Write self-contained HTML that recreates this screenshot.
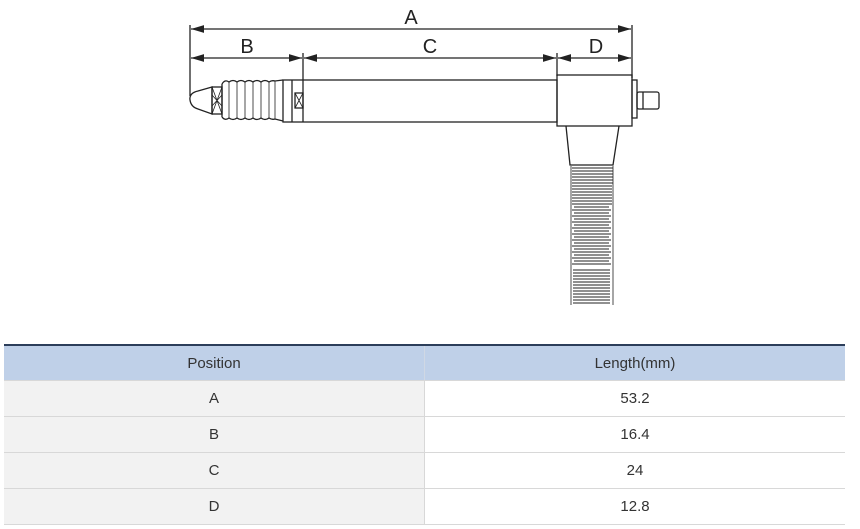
<!DOCTYPE html>
<html><head><meta charset="utf-8"><style>
body{margin:0;background:#fff;width:860px;height:529px;overflow:hidden;font-family:"Liberation Sans",sans-serif}
table{position:absolute;left:4px;top:344px;width:841px;border-collapse:collapse;border-top:2px solid #2c3e5a;font-size:15px;color:#333}
td{height:35px;text-align:center;border-bottom:1px solid #d8d8d8;padding:0}
tr.h td{background:#bfd0e8;height:34px}
td.l{background:#f2f2f2;width:420px;border-right:1px solid #d8d8d8}
tr.h td.l{background:#bfd0e8;border-right:1px solid #d0d8e4}
</style></head><body>
<svg width="860" height="340" style="position:absolute;left:0;top:0" fill="none" stroke="#222" stroke-width="1.3">
<defs><marker id="a" markerWidth="10" markerHeight="6" refX="10" refY="3" orient="auto-start-reverse"><path d="M0,0L10,3L0,6z" fill="#222" stroke="none"/></marker></defs>
<line x1="190" y1="25" x2="190" y2="96"/>
<line x1="632" y1="25" x2="632" y2="78"/>
<line x1="303" y1="53" x2="303" y2="122"/>
<line x1="557" y1="53" x2="557" y2="76"/>
<line x1="191" y1="29" x2="631" y2="29" marker-start="url(#a)" marker-end="url(#a)"/>
<line x1="191" y1="58" x2="302" y2="58" marker-start="url(#a)" marker-end="url(#a)"/>
<line x1="304" y1="58" x2="556" y2="58" marker-start="url(#a)" marker-end="url(#a)"/>
<line x1="558" y1="58" x2="631" y2="58" marker-start="url(#a)" marker-end="url(#a)"/>
<g fill="#222" stroke="none" font-size="20" font-family="Liberation Sans,sans-serif" text-anchor="middle">
<text x="411" y="24">A</text><text x="247" y="53">B</text><text x="430" y="53">C</text><text x="596" y="53">D</text></g>
<path d="M212,87 L198,91 Q189,93 190,100 Q191,107 198,109 L212,114 Z"/>
<rect x="212" y="87" width="10" height="27"/>
<path d="M212,87 L222,114 M222,87 L212,114 M212,95 L222,106 M222,95 L212,106" stroke-width="0.8"/>
<path d="M222,84 L222,117 M222,84 Q225,79 229,82 Q233,79 237,82 Q241,79 245,82 Q249,79 253,82 Q257,79 261,82 Q265,79 269,82 Q272,80 275,81 L283,80 M222,117 Q225,121 229,118 Q233,121 237,118 Q241,121 245,118 Q249,121 253,118 Q257,121 261,118 Q265,121 269,118 Q272,120 275,119 L283,121"/>
<path d="M229,82V118M237,82V118M245,82V118M253,82V118M261,82V118M269,82V118M275,81V119" stroke-width="0.8"/>
<rect x="283" y="80" width="274" height="42"/>
<line x1="292" y1="80" x2="292" y2="122"/>
<rect x="295" y="93" width="8" height="15"/><path d="M295,93L303,108M303,93L295,108" stroke-width="0.8"/>
<rect x="557" y="75" width="75" height="51"/>
<rect x="632" y="80" width="5" height="38"/>
<rect x="637" y="92" width="22" height="17" rx="2"/><line x1="643" y1="92" x2="643" y2="109"/>
<path d="M566,126 L570,165 L613,165 L619,126"/>
<g stroke-width="1">
<path d="M572,168H613M572,171H613M572,174H613M572,177H613M572,180H613M572,183H613M572,186H612M572,189H612M572,192H612M572,195H612M572,198H612M572,201H612M572,204H612"/>
<path d="M572,210H611M572,216H611M572,222H611M572,228H611M572,234H611M572,240H611M572,246H611M572,252H611M572,258H611M572,264H611"/>
<path d="M574,207H609M574,213H609M574,219H609M574,225H609M574,231H609M574,237H609M574,243H609M574,249H609M574,255H609M574,261H609"/>
<path d="M573,270H610M573,273H610M573,276H610M573,279H610M573,282H610M573,285H610M573,288H610M573,291H610M573,294H610M573,297H610M573,300H610M573,303H610"/>
<path d="M571,166V305M613,166V305" stroke-width="0.8"/>
</g>
</svg>
<table>
<tr class="h"><td class="l">Position</td><td>Length(mm)</td></tr>
<tr><td class="l">A</td><td>53.2</td></tr>
<tr><td class="l">B</td><td>16.4</td></tr>
<tr><td class="l">C</td><td>24</td></tr>
<tr><td class="l">D</td><td>12.8</td></tr>
</table>
</body></html>
